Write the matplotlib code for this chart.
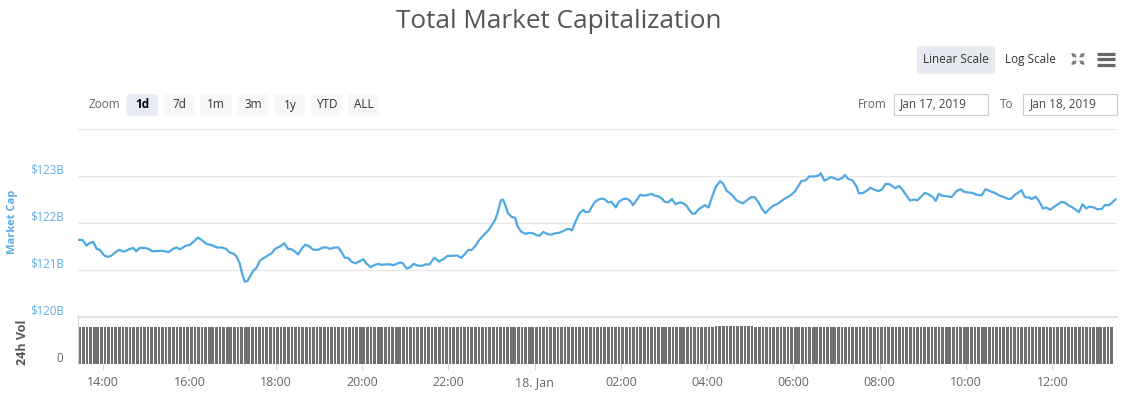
import numpy as np
import matplotlib as mpl
mpl.use('Agg')
import matplotlib.pyplot as plt
from matplotlib.patches import FancyBboxPatch, Rectangle
from matplotlib import transforms

plt.rcParams['font.family'] = ['Open Sans', 'DejaVu Sans']

W, H = 1129, 396

# market cap, time in minutes after 00:00 Jan 17 2019, value in $B
CAP_T = [806, 811, 817, 821, 826, 831, 835, 842, 847, 852, 859, 863, 868, 872, 877, 882,
         886, 891, 898, 903, 908, 914, 921, 926, 931, 937, 942, 947, 954, 961, 967, 972,
         977, 984, 991, 998, 1005, 1011, 1016, 1021, 1025, 1030, 1033, 1037, 1041, 1044,
         1049, 1053, 1058, 1065, 1070, 1074, 1079, 1086, 1092, 1097, 1102, 1107, 1111,
         1116, 1121, 1127, 1132, 1139, 1146, 1151, 1155,
         1162, 1167, 1172, 1176, 1181, 1185, 1191, 1196, 1202, 1206, 1212, 1218, 1223,
         1227, 1234, 1239, 1243, 1248, 1253, 1257, 1262, 1267, 1272, 1278, 1284, 1288,
         1294, 1299, 1301, 1307, 1313, 1319, 1325, 1332, 1338, 1343, 1348, 1352, 1357,
         1363, 1369, 1376, 1380, 1385, 1389, 1393, 1396, 1400, 1403, 1408, 1413, 1416,
         1421, 1427, 1433, 1438, 1443, 1447, 1452, 1457, 1463, 1468, 1474, 1480, 1485,
         1489, 1492, 1497, 1503, 1508, 1511, 1516, 1519,
         1524, 1529, 1534, 1538, 1542, 1547, 1553, 1557, 1563, 1568, 1573, 1577, 1582,
         1587, 1593, 1598, 1603, 1607, 1612, 1617, 1621, 1626, 1631, 1636, 1642, 1647,
         1651, 1656, 1659, 1663, 1668, 1672, 1677, 1682, 1687, 1692, 1698, 1702, 1707,
         1712, 1716, 1721, 1726, 1730, 1735, 1741, 1746, 1751, 1756, 1761, 1766, 1772,
         1777, 1781, 1788, 1793, 1797, 1802, 1807, 1811, 1817, 1822, 1830, 1835, 1838,
         1843, 1848, 1852, 1857, 1862, 1867, 1872, 1876, 1882, 1888,
         1891, 1897, 1903, 1907, 1912, 1918, 1923, 1928, 1933, 1937, 1942, 1947, 1951,
         1956, 1962, 1968, 1972, 1977, 1983, 1988, 1994, 1998, 2002, 2007, 2013, 2020,
         2027, 2032, 2038, 2044, 2049, 2055, 2062, 2067, 2073, 2080, 2087, 2093, 2099,
         2103, 2108, 2113, 2117, 2122, 2128, 2131, 2137, 2141, 2147, 2152, 2157, 2163,
         2168, 2173, 2178, 2182, 2187, 2191, 2197, 2202, 2207, 2212, 2218, 2223, 2229,
         2233, 2239, 2243, 2248]
CAP_B = [121.64, 121.64, 121.52, 121.57, 121.60, 121.45, 121.43, 121.30, 121.28, 121.31,
         121.40, 121.43, 121.39, 121.41, 121.45, 121.47, 121.40, 121.47, 121.47, 121.45,
         121.40, 121.40, 121.41, 121.40, 121.38, 121.45, 121.48, 121.44, 121.51, 121.54,
         121.62, 121.69, 121.64, 121.55, 121.53, 121.48, 121.48, 121.45, 121.37, 121.35,
         121.30, 121.14, 120.93, 120.75, 120.77, 120.86, 120.99, 121.04, 121.20, 121.27,
         121.32, 121.35, 121.45, 121.50, 121.57, 121.45, 121.44, 121.39, 121.33, 121.45,
         121.54, 121.50, 121.43, 121.43, 121.48, 121.48, 121.45,
         121.48, 121.48, 121.37, 121.26, 121.26, 121.18, 121.14, 121.18, 121.23, 121.14,
         121.06, 121.11, 121.13, 121.11, 121.12, 121.12, 121.10, 121.13, 121.16, 121.14,
         121.03, 121.06, 121.13, 121.09, 121.09, 121.12, 121.12, 121.23, 121.26, 121.18,
         121.23, 121.30, 121.30, 121.31, 121.26, 121.34, 121.43, 121.42, 121.50, 121.64,
         121.74, 121.85, 121.94, 122.06, 122.24, 122.48, 122.50, 122.35, 122.21, 122.13,
         122.11, 121.94, 121.82, 121.77, 121.79, 121.78, 121.74, 121.73, 121.81, 121.77,
         121.75, 121.78, 121.79, 121.83, 121.87, 121.87, 121.84, 122.03, 122.22, 122.28,
         122.23, 122.24, 122.33,
         122.45, 122.50, 122.52, 122.50, 122.44, 122.45, 122.33, 122.45, 122.51, 122.52,
         122.47, 122.38, 122.49, 122.60, 122.58, 122.60, 122.62, 122.58, 122.57, 122.52,
         122.45, 122.44, 122.51, 122.40, 122.44, 122.42, 122.37, 122.26, 122.20, 122.20,
         122.29, 122.33, 122.38, 122.33, 122.56, 122.77, 122.89, 122.84, 122.69, 122.63,
         122.57, 122.48, 122.44, 122.42, 122.48, 122.55, 122.55, 122.45, 122.31, 122.21,
         122.29, 122.37, 122.40, 122.44, 122.52, 122.56, 122.60, 122.67, 122.79, 122.89,
         122.91, 122.99, 122.99, 123.01, 123.06, 122.90, 122.94, 122.98, 122.95, 122.92,
         122.95, 123.02, 122.94, 122.91, 122.77,
         122.63, 122.64, 122.70, 122.75, 122.71, 122.68, 122.71, 122.83, 122.83, 122.79,
         122.74, 122.79, 122.72, 122.61, 122.48, 122.50, 122.48, 122.55, 122.64, 122.61,
         122.55, 122.47, 122.62, 122.58, 122.57, 122.55, 122.68, 122.72, 122.66, 122.65,
         122.64, 122.60, 122.59, 122.72, 122.68, 122.64, 122.58, 122.55, 122.51, 122.52,
         122.60, 122.65, 122.70, 122.55, 122.54, 122.51, 122.56, 122.48, 122.31, 122.33,
         122.28, 122.35, 122.40, 122.45, 122.43, 122.38, 122.34, 122.30, 122.23, 122.40,
         122.31, 122.35, 122.33, 122.29, 122.30, 122.38, 122.38, 122.43, 122.50]

# 24h volume ($B), one bar per 5 minutes starting 13:27:30
VOL_START = 807.5
VOL_B = [
    18.8, 18.8, 18.7, 18.8, 18.8, 18.9, 18.8, 18.8, 18.7, 18.8, 18.8, 18.8,
    18.8, 18.8, 18.8, 18.9, 18.8, 18.8, 18.8, 18.7, 18.8, 18.8, 18.9, 18.8,
    18.8, 18.7, 18.8, 18.8, 18.8, 18.8, 18.8, 18.9, 18.8, 18.8, 18.8, 18.8,
    18.8, 18.8, 18.8, 18.8, 18.9, 18.8, 18.8, 18.8, 18.8, 18.8, 18.7, 18.8,
    18.8, 18.8, 18.8, 18.9, 18.8, 18.8, 18.9, 19.0, 19.0, 19.1, 19.0, 19.0,
    19.0, 19.1, 19.0, 19.1, 19.0, 19.0, 18.9, 18.9, 18.8, 18.8, 18.8, 18.8,
    18.8, 18.8, 18.8, 18.8, 18.8, 18.8, 18.7, 18.8, 18.8, 18.8, 18.8, 18.8,
    18.7, 18.7, 18.7, 18.8, 18.7, 18.7, 18.8, 18.7, 18.7, 18.7, 18.7, 18.7,
    18.7, 18.7, 18.7, 18.7, 18.7, 18.8, 18.7, 18.7, 18.7, 18.7, 18.7, 18.7,
    18.7, 18.7, 18.7, 18.7, 18.8, 18.8, 18.8, 18.8, 18.8, 18.8, 18.8, 18.8,
    18.8, 18.8, 18.9, 18.8, 18.8, 18.9, 18.8, 18.8, 18.9, 18.8, 18.9, 18.8,
    18.9, 18.9, 18.9, 19.0, 18.9, 18.9, 19.0, 18.9, 18.9, 19.0, 18.9, 19.0,
    18.9, 19.0, 19.0, 19.1, 19.0, 19.0, 19.0, 19.1, 19.0, 19.0, 19.0, 19.0,
    19.0, 19.0, 19.0, 19.0, 19.0, 19.0, 19.0, 19.0, 19.0, 19.0, 19.1, 19.0,
    19.0, 19.0, 19.0, 19.0, 19.0, 19.0, 19.1, 19.1, 19.1, 19.2, 19.2, 19.3,
    19.3, 19.4, 19.6, 19.5, 19.4, 19.3, 19.2, 19.2, 19.1, 19.1, 19.0, 19.0,
    19.0, 19.0, 19.0, 19.0, 19.0, 19.0, 19.0, 19.0, 19.0, 19.0, 19.0, 19.0,
    19.0, 19.0, 19.0, 19.0, 19.0, 19.0, 19.0, 19.0, 19.0, 19.0, 19.0, 19.0,
    19.0, 19.0, 18.9, 18.9, 18.9, 18.9, 18.9, 18.9, 18.9, 19.0, 18.9, 18.9,
    18.9, 18.9, 18.9, 18.9, 18.9, 18.9, 18.9, 18.9, 18.9, 18.9, 18.9, 18.9,
    18.9, 18.9, 19.0, 18.9, 18.9, 18.9, 18.9, 18.9, 18.9, 18.9, 18.9, 18.9,
    19.0, 18.9, 18.9, 18.9, 18.9, 18.9, 18.9, 18.9, 18.9, 18.9, 18.9, 18.9,
    18.9, 18.9, 18.9, 18.9, 18.9, 19.0, 18.9, 18.9, 18.9, 18.9, 18.9, 18.9,
    18.9, 18.9, 19.0, 18.9, 18.9, 18.9, 18.9, 18.9, 18.9, 18.9, 18.9, 18.9,
]

TICK_T = [840, 960, 1080, 1200, 1320, 1440, 1560, 1680, 1800, 1920, 2040, 2160]
TICK_LABELS = ['14:00', '16:00', '18:00', '20:00', '22:00', '18. Jan',
               '02:00', '04:00', '06:00', '08:00', '10:00', '12:00']
CAP_TICKS = [120, 121, 122, 123]
CAP_LABELS = ['$120B', '$121B', '$122B', '$123B']
ZOOM_BUTTONS = ['1d', '7d', '1m', '3m', '1y', 'YTD', 'ALL']

BLUE = '#4fa9e0'
LBLUE = '#5caee2'
GRID = '#e6e6e6'
TXT = '#666666'
UI_FS = 8.5

fig = plt.figure(figsize=(W / 100, H / 100), dpi=100)

# main panel
ax = fig.add_axes([78 / W, (H - 317) / H, 1039 / W, 188 / H])
ax.plot(CAP_T, CAP_B, color=BLUE, lw=1.6, solid_joinstyle='round', zorder=3)
ax.set_xlim(805, 2250)
ax.set_ylim(120, 124)
ax.set_yticks([121, 122, 123, 124])
ax.yaxis.grid(True, color=GRID, lw=0.9)
ax.tick_params(left=False, labelleft=False, bottom=False, labelbottom=False)
for s in ax.spines.values():
    s.set_visible(False)
lab_tr = transforms.offset_copy(ax.get_yaxis_transform(), fig=fig, x=0, y=6, units='dots')
for v, l in zip(CAP_TICKS, CAP_LABELS):
    ax.text(-14 / 1039, v, l, transform=lab_tr, ha='right', va='center',
            color=LBLUE, fontsize=8.3)

# volume panel
vx = fig.add_axes([78 / W, (H - 364) / H, 1039 / W, 47 / H])
vt = VOL_START + 5 * np.arange(len(VOL_B))
vx.bar(vt, VOL_B, width=3.7, color='#707070', linewidth=0)
vx.set_xlim(805, 2250)
vx.set_ylim(0, 24)
vx.set_yticks([])
vx.set_xticks(TICK_T)
vx.set_xticklabels(TICK_LABELS)
vx.tick_params(axis='x', direction='out', length=4.5, width=0.8, color='#ccd6eb',
               labelcolor=TXT, labelsize=9, pad=4.5)
for k in ['right', 'bottom']:
    vx.spines[k].set_visible(False)
vx.spines['top'].set_color('#e0e0e0')
vx.spines['top'].set_linewidth(1.5)
vx.spines['left'].set_color('#d8d8d8')
vx.spines['left'].set_linewidth(0.8)
z_tr = transforms.offset_copy(vx.get_yaxis_transform(), fig=fig, x=0, y=6, units='dots')
vx.text(-15 / 1039, 0, '0', transform=z_tr, ha='right', va='center', color=TXT, fontsize=8.3)

# titles
fig.text(559 / W, 1 - 22 / H, 'Total Market Capitalization', ha='center', va='center',
         color='#555555', fontsize=18.8)
fig.text(13 / W, 1 - 222 / H, 'Market Cap', rotation=90, ha='center', va='center',
         color=LBLUE, fontsize=8, fontweight='bold')
fig.text(23 / W, 1 - 342 / H, '24h Vol', rotation=90, ha='center', va='center',
         color='#555555', fontsize=9, fontweight='bold')

# UI overlay in pixel coordinates
ui = fig.add_axes([0, 0, 1, 1], zorder=5)
ui.set_xlim(0, W)
ui.set_ylim(H, 0)
ui.axis('off')
ui.patch.set_visible(False)


def button(x0, y0, w, h, fc):
    ui.add_patch(FancyBboxPatch((x0, y0), w, h, boxstyle='round,pad=0,rounding_size=2',
                                fc=fc, ec='none'))


# scale buttons
button(917, 46.5, 78, 27, '#e6e9ef')
ui.text(956, 59.5, 'Linear Scale', ha='center', va='center', color='#333333', fontsize=UI_FS)
ui.text(1030, 59.5, 'Log Scale', ha='center', va='center', color='#333333', fontsize=UI_FS)
# fullscreen icon
cx, cy = 1078, 59
for sx in (-1, 1):
    for sy in (-1, 1):
        ui.annotate('', xy=(cx + 7 * sx, cy + 6 * sy), xytext=(cx + 2 * sx, cy + 2 * sy),
                    arrowprops=dict(arrowstyle='-|>', color='#777777', lw=1,
                                    mutation_scale=5, shrinkA=0, shrinkB=0))
# menu icon
for yy in (53.5, 59.3, 65):
    ui.plot([1097, 1115], [yy, yy], color='#666666', lw=2.3, solid_capstyle='butt')

# zoom buttons
ui.text(104.5, 105, 'Zoom', ha='center', va='center', color=TXT, fontsize=UI_FS)
for i, b in enumerate(ZOOM_BUTTONS):
    x0 = 126.7 + i * 36.9
    button(x0, 94.3, 31, 21.4, '#e6ebf5' if i == 0 else '#f7f7f7')
    ui.text(x0 + 15.5, 105, b, ha='center', va='center', color='#000000' if i == 0 else '#333333',
            fontsize=UI_FS, fontweight='bold' if i == 0 else 'normal')

# date range
ui.text(872, 104, 'From', ha='center', va='center', color=TXT, fontsize=UI_FS)
ui.add_patch(Rectangle((894, 94), 94, 21, fc='white', ec='#cccccc', lw=0.8))
ui.text(900, 104, 'Jan 17, 2019', ha='left', va='center', color='#444444', fontsize=UI_FS)
ui.text(1007, 104, 'To', ha='center', va='center', color=TXT, fontsize=UI_FS)
ui.add_patch(Rectangle((1023, 94), 94, 21, fc='white', ec='#cccccc', lw=0.8))
ui.text(1030, 104, 'Jan 18, 2019', ha='left', va='center', color='#444444', fontsize=UI_FS)

fig.savefig('out.png', dpi=100)
plt.close(fig)
